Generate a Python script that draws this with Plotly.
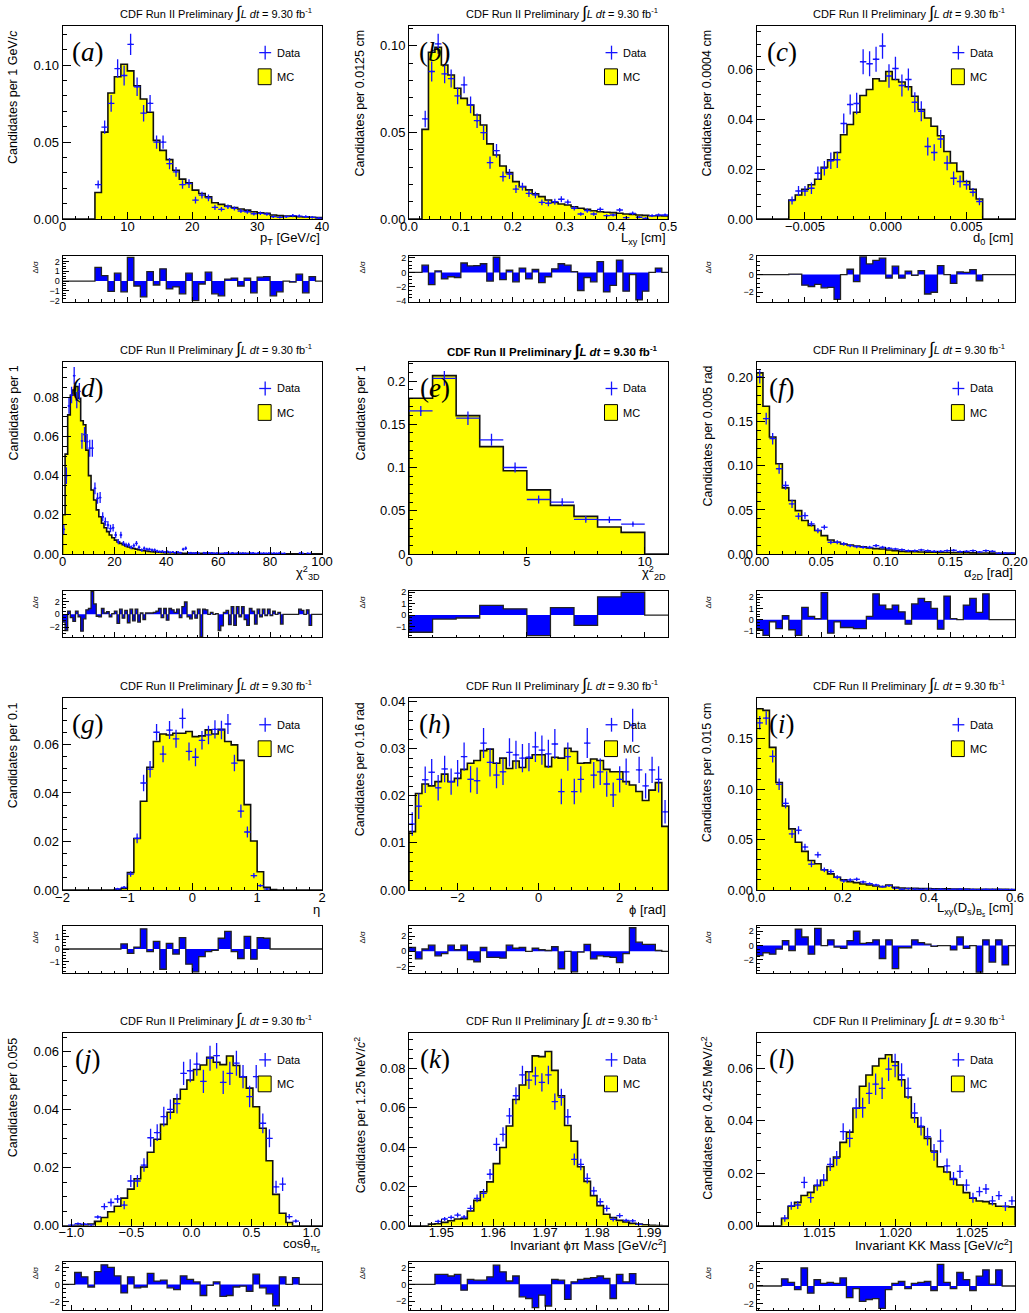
import plotly.graph_objects as go

W, H = 1029, 1313
FONT = "Liberation Sans"
SERIF = "Liberation Serif"
BLUE = "#1414ff"

# ---------------- (a) pT ----------------
A_START, A_BW = 5.0, 1.0
A_MC = [0.0172, 0.0565, 0.0819, 0.0925, 0.1006, 0.0963, 0.0866, 0.0780, 0.0694, 0.0511,
        0.0446, 0.0386, 0.0317, 0.0259, 0.0235, 0.0188, 0.0166, 0.0144, 0.0106, 0.0095,
        0.0084, 0.0075, 0.0065, 0.0058, 0.0047, 0.0041, 0.0037, 0.0026, 0.0022, 0.0019,
        0.0019, 0.0015, 0.0013, 0.0011, 0.0009]
A_DATA = [0.0224, 0.0597, 0.0752, 0.0978, 0.0933, 0.1136, 0.0860, 0.0688, 0.0752, 0.0500,
          0.0500, 0.0360, 0.0306, 0.0224, 0.0230, 0.0123, 0.0155, 0.0138, 0.0075, 0.0063,
          0.0080, 0.0069, 0.0052, 0.0047, 0.0034, 0.0037, 0.0032, 0.0015, 0.0011, 0.0015,
          0.0022, 0.0019, 0.0015, 0.0011, 0.0006]
A_ERR = [0.0026, 0.0043, 0.0054, 0.0060, 0.0065, 0.0069, 0.0060, 0.0054, 0.0054, 0.0043,
         0.0043, 0.0037, 0.0032, 0.0028, 0.0028, 0.0022, 0.0022, 0.0022, 0.0017, 0.0015,
         0.0015, 0.0013, 0.0013, 0.0013, 0.0011, 0.0011, 0.0011, 0.0009, 0.0008, 0.0009,
         0.0010, 0.0010, 0.0009, 0.0008, 0.0006]
A_RES_START = 5.0
A_RES = [1.4, 0.55, -1.05, 0.8, -1.1, 2.4, -0.5, -1.6, 0.95, -0.4, 1.25, -0.8, -0.6, -1.3, 0.8,
         -2.0, -0.3, 0.9, -1.3, -1.5, 0.2, 0.3, -0.5, 0.3, -1.2, 0.4, 0.45, -1.5, -1.1, 0.0,
         -0.1, 0.7, -1.2, 0.45, 0.0]

# ---------------- (b) Lxy ----------------
B_START, B_BW = 0.025, 0.0125
B_MC = [0.0518, 0.0963, 0.0992, 0.0890, 0.0832, 0.0755, 0.0697, 0.0659, 0.0601, 0.0543,
        0.0434, 0.0370, 0.0306, 0.0268, 0.0216, 0.0187, 0.0168, 0.0145, 0.0129, 0.0110,
        0.0096, 0.0087, 0.0081, 0.0071, 0.0062, 0.0056, 0.0048, 0.0042, 0.0039, 0.0037,
        0.0033, 0.0029, 0.0027, 0.0023, 0.0021, 0.0019, 0.0019, 0.0017]
B_DATA = [0.0578, 0.0852, 0.1012, 0.0838, 0.0811, 0.0711, 0.0775, 0.0659, 0.0568, 0.0499,
          0.0326, 0.0395, 0.0245, 0.0260, 0.0173, 0.0187, 0.0148, 0.0139, 0.0096, 0.0091,
          0.0100, 0.0114, 0.0098, 0.0062, 0.0029, 0.0048, 0.0029, 0.0056, 0.0019, 0.0023,
          0.0052, 0.0008, 0.0033, 0.0010, 0.0004, 0.0019, 0.0023, 0.0023]
B_ERR = [0.0048, 0.0058, 0.0058, 0.0054, 0.0052, 0.0048, 0.0048, 0.0048, 0.0042, 0.0042,
         0.0035, 0.0039, 0.0029, 0.0029, 0.0023, 0.0023, 0.0021, 0.0019, 0.0017, 0.0017,
         0.0017, 0.0017, 0.0015, 0.0013, 0.0010, 0.0012, 0.0010, 0.0012, 0.0008, 0.0009,
         0.0012, 0.0006, 0.0010, 0.0006, 0.0004, 0.0008, 0.0009, 0.0009]
B_RES_START = 0.025
B_RES = [1.0, -1.7, 0.2, -0.9, -0.6, -0.7, 1.3, 0.9, 0.95, 1.2, -1.2, 2.1, -1.0, 0.3, -1.3,
         0.6, -0.9, 0.4, -1.4, -0.6, 0.5, 1.2, 1.0, 0.1, -2.5, -0.7, -1.3, 1.5, -2.7, -1.8,
         1.7, -2.6, -0.3, -3.8, -2.6, 0.0, 0.6, 0.0]

# ---------------- (c) d0 ----------------
C_START, C_BW = -0.006, 0.0004
C_MC = [0.0076, 0.0096, 0.0119, 0.0137, 0.0159, 0.0207, 0.0237, 0.0266, 0.0337, 0.0378,
        0.0427, 0.0494, 0.0518, 0.0561, 0.0552, 0.0590, 0.0558, 0.0548, 0.0529, 0.0491,
        0.0438, 0.0404, 0.0371, 0.0333, 0.0270, 0.0224, 0.0190, 0.0150, 0.0119, 0.0080]
C_DATA = [0.0074, 0.0112, 0.0112, 0.0123, 0.0183, 0.0203, 0.0233, 0.0237, 0.0382, 0.0458,
          0.0462, 0.0629, 0.0621, 0.0639, 0.0692, 0.0572, 0.0602, 0.0534, 0.0558, 0.0467,
          0.0431, 0.0290, 0.0266, 0.0320, 0.0224, 0.0163, 0.0150, 0.0137, 0.0107, 0.0070]
C_ERR = [0.0016, 0.0020, 0.0020, 0.0023, 0.0027, 0.0029, 0.0033, 0.0033, 0.0040, 0.0040,
         0.0043, 0.0050, 0.0050, 0.0050, 0.0051, 0.0047, 0.0047, 0.0044, 0.0044, 0.0040,
         0.0040, 0.0036, 0.0033, 0.0036, 0.0029, 0.0027, 0.0024, 0.0020, 0.0017, 0.0015]
C_RES_START = -0.006
C_RES = [0.05, 0.05, -1.2, -1.35, -1.1, -1.5, -1.45, -2.8, 0.0, 0.6, -0.8, 2.0, 1.2, 1.6, 1.85,
         -0.4, 0.95, -0.4, 0.4, -0.1, 0.45, -2.2, -2.0, 1.0, 0.0, -1.0, 0.3, 0.25, 0.55, -0.7]

# ---------------- (d) chi2 3D ----------------
D_START, D_BW = 0.0, 1.0
D_MC = [0.0200, 0.0510, 0.0710, 0.0810, 0.0837, 0.0855, 0.0795, 0.0680, 0.0660, 0.0530,
        0.0400, 0.0327, 0.0276, 0.0225, 0.0190, 0.0157, 0.0134, 0.0114, 0.0097, 0.0083,
        0.0071, 0.0062, 0.0054, 0.0047, 0.0041, 0.0036, 0.0032, 0.0028, 0.0025, 0.0022,
        0.0019, 0.0017, 0.0015, 0.0013, 0.0012, 0.0011, 0.0010, 0.0009, 0.0008, 0.0007,
        0.0007, 0.0006, 0.0006, 0.0005, 0.0005, 0.0005, 0.0004, 0.0004, 0.0004, 0.0004,
        0.0003, 0.0003, 0.0003, 0.0003, 0.0003, 0.0003, 0.0003, 0.0003, 0.0002, 0.0002,
        0.0002, 0.0002, 0.0002, 0.0002, 0.0002, 0.0002, 0.0002, 0.0002, 0.0002, 0.0002,
        0.0002, 0.0002, 0.0001, 0.0001, 0.0001, 0.0001, 0.0001, 0.0001, 0.0001, 0.0001,
        0.0001, 0.0001, 0.0001, 0.0001, 0.0001, 0.0001, 0.0001, 0.0001, 0.0001, 0.0001,
        0.0001, 0.0001, 0.0001, 0.0001, 0.0001, 0.0001, 0.0001, 0.0001, 0.0001, 0.0001]
D_DATA = [0.0126, 0.0400, 0.0756, 0.0812, 0.0910, 0.0786, 0.0830, 0.0577, 0.0610, 0.0574,
          0.0540, 0.0540, 0.0335, 0.0284, 0.0288, 0.0190, 0.0165, 0.0148, 0.0130, 0.0134,
          0.0097, 0.0063, 0.0097, 0.0054, 0.0046, 0.0046, 0.0034, 0.0043, 0.0054, 0.0034,
          0.0020, 0.0029, 0.0024, 0.0024, 0.0020, 0.0020, 0.0015, 0.0012, 0.0013, 0.0009,
          0.0012, 0.0008, 0.0010, 0.0007, 0.0009, 0.0006, 0.0024, 0.0029, 0.0005, 0.0006,
          0.0004, 0.0005, 0.0003, 0.0000, 0.0006, 0.0005, 0.0004, 0.0005, 0.0003, 0.0004,
          0.0002, 0.0002, 0.0004, 0.0005, 0.0002, 0.0005, 0.0002, 0.0004, 0.0003, 0.0004,
          0.0003, 0.0002, 0.0004, 0.0005, 0.0002, 0.0005, 0.0003, 0.0004, 0.0003, 0.0004,
          0.0003, 0.0004, 0.0003, 0.0004, 0.0002, 0.0003, 0.0000, 0.0000, 0.0000, 0.0000,
          0.0000, 0.0004, 0.0003, 0.0000, 0.0003, 0.0002, 0.0000, 0.0000, 0.0000, 0.0000]
D_ERR = [0.0026, 0.0043, 0.0040, 0.0042, 0.0045, 0.0042, 0.0043, 0.0040, 0.0038, 0.0038,
         0.0043, 0.0043, 0.0030, 0.0028, 0.0028, 0.0023, 0.0021, 0.0020, 0.0019, 0.0019,
         0.0016, 0.0013, 0.0016, 0.0012, 0.0011, 0.0011, 0.0010, 0.0011, 0.0012, 0.0010,
         0.0008, 0.0009, 0.0008, 0.0008, 0.0008, 0.0008, 0.0007, 0.0006, 0.0006, 0.0005,
         0.0006, 0.0005, 0.0005, 0.0004, 0.0005, 0.0004, 0.0008, 0.0009, 0.0004, 0.0004,
         0.0003, 0.0004, 0.0003, 0.0000, 0.0004, 0.0004, 0.0003, 0.0004, 0.0003, 0.0003,
         0.0002, 0.0002, 0.0003, 0.0004, 0.0002, 0.0004, 0.0002, 0.0003, 0.0003, 0.0003,
         0.0003, 0.0002, 0.0003, 0.0004, 0.0002, 0.0004, 0.0003, 0.0003, 0.0003, 0.0003,
         0.0003, 0.0003, 0.0003, 0.0003, 0.0002, 0.0003, 0.0000, 0.0000, 0.0000, 0.0000,
         0.0000, 0.0003, 0.0003, 0.0000, 0.0003, 0.0002, 0.0000, 0.0000, 0.0000, 0.0000]
D_RES_START = 0.0
D_RES = [-1.2, -2.5, 0.5, -0.5, -1.1, 0.5, -0.4, -2.6, -0.7, 0.7,
         0.9, 3.5, 1.6, -0.3, -0.4, 0.9, 0.2, 0.4, -0.4, 0.1,
         0.5, -1.4, 0.8, -0.6, 0.6, -1.3, 0.8, -1.0, 0.8, -1.2,
         0.2, -0.8, 0.2, 0.2, 0.2, 0.3, 0.5, 0.9, -0.5, 0.9,
         -0.9, 0.9, 0.7, 0.3, 0.8, -0.5, 1.2, 1.9, -0.4, -0.7,
         0.5, -0.6, 0.8, -3.5, 0.8, 0.7, 0.0, 0.3, 0.0, 0.1,
         -2.5, -1.8, 0.3, 0.6, -1.6, 1.2, -1.7, 1.2, -0.4, 1.2,
         -0.8, -1.7, 0.9, 0.5, -1.5, 0.8, -0.4, 0.8, -0.2, 0.8,
         -0.2, 0.5, 0.0, 0.3, -1.5, 0.0, 0.0, 0.0, 0.0, 0.0,
         0.0, 0.8, 0.6, 0.0, 0.7, -1.7, 0.0, 0.0, 0.0, 0.0]

# ---------------- (e) chi2 2D ----------------
E_START, E_BW = 0.0, 1.0
E_MC = [0.1800, 0.2062, 0.1600, 0.1242, 0.0962, 0.0742, 0.0562, 0.0435, 0.0312, 0.0250]
E_DATA = [0.1654, 0.2030, 0.1570, 0.1320, 0.1000, 0.0630, 0.0600, 0.0400, 0.0396, 0.0346]
E_ERR = [0.0058, 0.0085, 0.0077, 0.0069, 0.0058, 0.0046, 0.0046, 0.0038, 0.0038, 0.0031]
E_RES_START = 0.0
E_RES = [-1.5, -0.35, -0.25, 0.85, 0.55, -1.8, 0.65, -0.9, 1.6, 2.0, 0.0]

# ---------------- (f) alpha 2D ----------------
F_START, F_BW = 0.0, 0.005
F_MC = [0.2057, 0.1677, 0.1328, 0.1025, 0.0751, 0.0607, 0.0493, 0.0380, 0.0323, 0.0266,
        0.0209, 0.0159, 0.0133, 0.0114, 0.0102, 0.0091, 0.0083, 0.0068, 0.0061, 0.0057,
        0.0046, 0.0038, 0.0030, 0.0027, 0.0025, 0.0023, 0.0021, 0.0020, 0.0018, 0.0017,
        0.0016, 0.0015, 0.0014, 0.0013, 0.0012, 0.0011, 0.0010, 0.0009, 0.0008, 0.0008]
F_DATA = [0.2011, 0.1537, 0.1309, 0.0968, 0.0778, 0.0569, 0.0429, 0.0436, 0.0342, 0.0266,
          0.0304, 0.0133, 0.0133, 0.0114, 0.0095, 0.0083, 0.0076, 0.0076, 0.0095, 0.0076,
          0.0065, 0.0057, 0.0049, 0.0038, 0.0038, 0.0046, 0.0038, 0.0030, 0.0030, 0.0038,
          0.0042, 0.0027, 0.0030, 0.0038, 0.0023, 0.0038, 0.0030, 0.0008, 0.0011, 0.0011]
F_ERR = [0.0076, 0.0068, 0.0065, 0.0057, 0.0049, 0.0046, 0.0038, 0.0038, 0.0030, 0.0030,
         0.0027, 0.0023, 0.0023, 0.0021, 0.0019, 0.0018, 0.0017, 0.0017, 0.0019, 0.0017,
         0.0015, 0.0014, 0.0013, 0.0012, 0.0012, 0.0013, 0.0012, 0.0011, 0.0011, 0.0012,
         0.0012, 0.0010, 0.0011, 0.0012, 0.0009, 0.0012, 0.0011, 0.0006, 0.0007, 0.0007]
F_RES_START = 0.0
F_RES = [-0.9, -1.4, -0.2, -0.8, 0.35, -0.9, -1.4, 1.1, 0.3, 0.1, 2.4, -1.2, -0.2, -0.7, -0.7,
         -0.8, -0.8, 0.3, 2.3, 1.3, 0.95, 1.3, 0.7, -0.4, 1.4, 1.9, 1.6, 1.0, -0.85, 2.1,
         0.1, 0.0, 1.3, 1.9, 0.65, 2.3, 0.0, 0.0, 0.0, 0.0]

# ---------------- (g) eta ----------------
G_START, G_BW = -1.3, 0.1
G_MC = [0.0000, 0.0002, 0.0006, 0.0072, 0.0212, 0.0366, 0.0506, 0.0612, 0.0643, 0.0639,
        0.0646, 0.0646, 0.0653, 0.0632, 0.0635, 0.0660, 0.0643, 0.0662, 0.0612, 0.0598,
        0.0534, 0.0352, 0.0202, 0.0075, 0.0011, 0.0002]
G_DATA = [0.0000, 0.0005, 0.0011, 0.0066, 0.0213, 0.0441, 0.0498, 0.0650, 0.0560, 0.0659,
          0.0623, 0.0707, 0.0571, 0.0547, 0.0617, 0.0639, 0.0662, 0.0659, 0.0684, 0.0523,
          0.0325, 0.0239, 0.0059, 0.0018, 0.0004, 0.0000]
G_ERR = [0.0000, 0.0003, 0.0005, 0.0011, 0.0020, 0.0034, 0.0034, 0.0034, 0.0034, 0.0037,
         0.0037, 0.0041, 0.0037, 0.0037, 0.0038, 0.0038, 0.0038, 0.0038, 0.0041, 0.0034,
         0.0027, 0.0023, 0.0011, 0.0006, 0.0003, 0.0000]
G_RES_START = -1.1
G_RES = [0.4, -0.35, 0.15, 1.6, -0.2, 0.6, -1.6, 0.45, -0.4, 0.9, -1.2, -1.8, -0.6, -0.2,
         -0.1, 0.85, 1.4, -0.2, -0.75, 1.0, -0.8, 0.9, 0.85]

# ---------------- (h) phi ----------------
H_START, H_BW = -3.2, 0.16
H_MC = [0.0124, 0.0205, 0.0225, 0.0221, 0.0230, 0.0246, 0.0230, 0.0237, 0.0256, 0.0269,
        0.0275, 0.0296, 0.0299, 0.0269, 0.0280, 0.0258, 0.0274, 0.0260, 0.0280, 0.0287,
        0.0287, 0.0262, 0.0282, 0.0280, 0.0301, 0.0294, 0.0269, 0.0270, 0.0278, 0.0275,
        0.0256, 0.0251, 0.0251, 0.0230, 0.0223, 0.0209, 0.0190, 0.0212, 0.0228, 0.0135]
H_DATA = [0.0140, 0.0178, 0.0234, 0.0250, 0.0217, 0.0257, 0.0230, 0.0248, 0.0283, 0.0235,
          0.0232, 0.0312, 0.0271, 0.0244, 0.0251, 0.0292, 0.0287, 0.0280, 0.0282, 0.0304,
          0.0297, 0.0289, 0.0310, 0.0209, 0.0283, 0.0209, 0.0235, 0.0312, 0.0244, 0.0251,
          0.0225, 0.0202, 0.0235, 0.0251, 0.0350, 0.0255, 0.0221, 0.0255, 0.0235, 0.0166]
H_ERR = [0.0025, 0.0027, 0.0028, 0.0028, 0.0027, 0.0028, 0.0028, 0.0028, 0.0030, 0.0028,
         0.0028, 0.0032, 0.0030, 0.0028, 0.0028, 0.0030, 0.0030, 0.0030, 0.0030, 0.0032,
         0.0031, 0.0030, 0.0032, 0.0027, 0.0030, 0.0027, 0.0028, 0.0032, 0.0028, 0.0028,
         0.0027, 0.0026, 0.0028, 0.0028, 0.0035, 0.0028, 0.0027, 0.0028, 0.0028, 0.0025]
H_RES_START = -3.2
H_RES = [0.5, -1.0, 0.3, 0.8, -0.6, -0.3, 0.8, 0.2, 0.8, -1.1, -1.4, 0.5, -0.8, -0.8, -0.9,
         0.8, 0.4, 0.5, 0.0, 0.4, 0.2, 0.1, 0.6, -2.3, 0.0, -2.7, -0.1, 0.9, -1.0, -0.6,
         -0.7, -0.8, -1.5, -0.3, 3.1, 1.2, 0.9, 0.9, 0.1, 0.0]

# ---------------- (i) Lxy(Ds)_Bs ----------------
I_START, I_BW = 0.0, 0.015
I_MC = [0.1797, 0.1780, 0.1414, 0.1065, 0.0832, 0.0606, 0.0473, 0.0383, 0.0293, 0.0260,
        0.0200, 0.0160, 0.0126, 0.0100, 0.0083, 0.0073, 0.0060, 0.0050, 0.0040, 0.0033,
        0.0050, 0.0027, 0.0020, 0.0018, 0.0016, 0.0015, 0.0014, 0.0013, 0.0012, 0.0011,
        0.0010, 0.0009, 0.0009, 0.0008, 0.0008, 0.0007, 0.0007, 0.0006, 0.0006, 0.0005]
I_DATA = [0.1657, 0.1704, 0.1324, 0.1048, 0.0859, 0.0556, 0.0592, 0.0426, 0.0256, 0.0349,
          0.0200, 0.0183, 0.0126, 0.0090, 0.0100, 0.0106, 0.0080, 0.0063, 0.0050, 0.0033,
          0.0043, 0.0017, 0.0007, 0.0012, 0.0008, 0.0006, 0.0010, 0.0005, 0.0007, 0.0004,
          0.0006, 0.0008, 0.0005, 0.0004, 0.0003, 0.0006, 0.0004, 0.0005, 0.0003, 0.0004]
I_ERR = [0.0067, 0.0067, 0.0060, 0.0057, 0.0050, 0.0040, 0.0040, 0.0033, 0.0030, 0.0030,
         0.0023, 0.0023, 0.0020, 0.0017, 0.0017, 0.0017, 0.0015, 0.0013, 0.0012, 0.0010,
         0.0010, 0.0007, 0.0005, 0.0006, 0.0005, 0.0004, 0.0005, 0.0004, 0.0004, 0.0003,
         0.0004, 0.0005, 0.0004, 0.0003, 0.0003, 0.0004, 0.0003, 0.0004, 0.0003, 0.0003]
I_RES_START = 0.0
I_RES = [-1.4, -1.0, -1.2, -0.5, 0.7, -0.7, 2.3, 1.2, -1.2, 2.4, 0.0, 0.8, -0.2, -0.4, 0.7,
         2.0, 0.3, 0.4, 0.8, -1.8, 0.8, -3.2, -0.3, -0.3, 0.8, 0.4, 0.2, -0.1, 0.0, 0.0,
         -0.6, 1.2, -0.4, 0.0, -3.7, 0.8, -2.3, 0.8, -2.7, 0.0]

# ---------------- (j) cos theta ----------------
J_START, J_BW = -1.0825, 0.055
J_MC = [0.0000, 0.0000, 0.0001, 0.0003, 0.0006, 0.0015, 0.0028, 0.0048, 0.0067, 0.0095,
        0.0126, 0.0162, 0.0202, 0.0253, 0.0298, 0.0349, 0.0391, 0.0437, 0.0470, 0.0502,
        0.0538, 0.0554, 0.0580, 0.0563, 0.0555, 0.0585, 0.0552, 0.0513, 0.0474, 0.0410,
        0.0336, 0.0224, 0.0108, 0.0043, 0.0011, 0.0000, 0.0000, 0.0000, 0.0000, 0.0000]
J_DATA = [0.0000, 0.0002, 0.0007, 0.0005, 0.0002, 0.0030, 0.0066, 0.0080, 0.0092, 0.0071,
          0.0154, 0.0154, 0.0209, 0.0303, 0.0321, 0.0376, 0.0401, 0.0421, 0.0525, 0.0534,
          0.0557, 0.0497, 0.0577, 0.0586, 0.0494, 0.0525, 0.0560, 0.0514, 0.0445, 0.0514,
          0.0353, 0.0301, 0.0134, 0.0143, 0.0031, 0.0016, 0.0000, 0.0000, 0.0000, 0.0000]
J_ERR = [0.0000, 0.0002, 0.0004, 0.0003, 0.0002, 0.0006, 0.0011, 0.0014, 0.0014, 0.0014,
         0.0021, 0.0021, 0.0023, 0.0031, 0.0029, 0.0034, 0.0034, 0.0034, 0.0040, 0.0040,
         0.0040, 0.0040, 0.0043, 0.0044, 0.0040, 0.0040, 0.0043, 0.0040, 0.0037, 0.0040,
         0.0034, 0.0031, 0.0021, 0.0023, 0.0009, 0.0006, 0.0000, 0.0000, 0.0000, 0.0000]
J_RES_START = -1.0825
J_RES = [0.0, 0.0, 1.4, 0.9, -0.3, 1.5, 2.3, 2.0, 1.0, -1.0, 0.9, -0.4, -0.3, 1.3, 0.4, 0.5,
         -0.4, -0.6, 1.0, 0.6, 0.3, -1.3, -0.1, 0.3, -1.4, -1.3, -0.3, -0.2, -0.8, 1.2, -0.4,
         -1.1, -2.5, 0.9, 0.0, 0.8, 0.0, 0.0, 0.0, 0.0]

# ---------------- (k) phi-pi mass ----------------
K_START, K_BW = 1.94375, 0.00125
K_MC = [0.0000, 0.0000, 0.0000, 0.0008, 0.0010, 0.0017, 0.0025, 0.0034, 0.0036, 0.0075,
        0.0129, 0.0173, 0.0223, 0.0316, 0.0398, 0.0508, 0.0643, 0.0717, 0.0784, 0.0865,
        0.0861, 0.0887, 0.0791, 0.0662, 0.0510, 0.0430, 0.0300, 0.0226, 0.0153, 0.0102,
        0.0058, 0.0041, 0.0027, 0.0019, 0.0012, 0.0008, 0.0005, 0.0002, 0.0001, 0.0000]
K_DATA = [0.0000, 0.0000, 0.0000, 0.0000, 0.0022, 0.0034, 0.0042, 0.0054, 0.0044, 0.0088,
          0.0139, 0.0165, 0.0262, 0.0414, 0.0465, 0.0559, 0.0662, 0.0768, 0.0742, 0.0763,
          0.0730, 0.0768, 0.0632, 0.0654, 0.0555, 0.0338, 0.0312, 0.0241, 0.0177, 0.0122,
          0.0088, 0.0032, 0.0051, 0.0027, 0.0025, 0.0007, 0.0000, 0.0000, 0.0000, 0.0000]
K_ERR = [0.0000, 0.0000, 0.0000, 0.0000, 0.0008, 0.0010, 0.0011, 0.0012, 0.0011, 0.0016,
         0.0020, 0.0022, 0.0027, 0.0034, 0.0036, 0.0040, 0.0043, 0.0047, 0.0046, 0.0047,
         0.0046, 0.0047, 0.0042, 0.0043, 0.0040, 0.0030, 0.0029, 0.0026, 0.0022, 0.0018,
         0.0016, 0.0010, 0.0012, 0.0009, 0.0009, 0.0005, 0.0000, 0.0000, 0.0000, 0.0000]
K_RES_START = 1.94375
K_RES = [0.0, 0.0, 0.0, 0.0, 1.2, 1.2, 1.0, 1.2, -0.7, 0.6, 0.5, 0.5, 0.9, 2.3, 1.5, 0.4, 1.0,
         -1.5, -1.7, -2.8, -1.3, -2.6, 0.6, 0.5, -1.8, 0.3, 0.6, 0.7, 0.8, 1.0, 0.7, -1.7,
         1.2, 0.3, 1.3, 0.0, 0.0, 0.0, 0.0, 0.0]

# ---------------- (l) KK mass ----------------
L_START, L_BW = 1.01253, 0.000425
L_MC = [0.0028, 0.0074, 0.0089, 0.0115, 0.0127, 0.0153, 0.0173, 0.0226, 0.0262, 0.0318,
        0.0357, 0.0448, 0.0532, 0.0575, 0.0609, 0.0638, 0.0652, 0.0625, 0.0557, 0.0491,
        0.0412, 0.0377, 0.0333, 0.0285, 0.0225, 0.0205, 0.0176, 0.0155, 0.0126, 0.0105,
        0.0094, 0.0092, 0.0084, 0.0074, 0.0074, 0.0072]
L_DATA = [0.0028, 0.0076, 0.0079, 0.0165, 0.0107, 0.0155, 0.0174, 0.0234, 0.0257, 0.0359,
          0.0333, 0.0448, 0.0450, 0.0505, 0.0540, 0.0524, 0.0597, 0.0611, 0.0575, 0.0524,
          0.0430, 0.0380, 0.0340, 0.0280, 0.0323, 0.0228, 0.0180, 0.0207, 0.0155, 0.0107,
          0.0130, 0.0140, 0.0095, 0.0115, 0.0073, 0.0095]
L_ERR = [0.0013, 0.0015, 0.0015, 0.0022, 0.0019, 0.0022, 0.0023, 0.0025, 0.0028, 0.0032,
         0.0034, 0.0038, 0.0038, 0.0041, 0.0041, 0.0041, 0.0045, 0.0045, 0.0045, 0.0041,
         0.0038, 0.0036, 0.0034, 0.0032, 0.0045, 0.0028, 0.0025, 0.0025, 0.0022, 0.0019,
         0.0019, 0.0019, 0.0018, 0.0017, 0.0017, 0.0017]
L_RES_START = 1.01253
L_RES = [0.8, 0.4, -0.4, 2.0, -0.8, 0.7, 0.3, 0.4, 0.3, 0.9, -1.3, -0.3, -1.7, -1.5, -1.4,
         -2.5, -0.4, 0.3, 0.5, -0.3, 0.3, 0.4, 0.5, -0.5, 2.4, 0.4, -0.3, 1.5, 0.7, -0.5,
         1.1, 1.8, 0.2, 1.8, 0.0, 0.0]

LABELS = ["a", "b", "c", "d", "e", "f", "g", "h", "i", "j", "k", "l"]
X_TITLES = [
    "p<sub>T</sub> [GeV/<i>c</i>]",
    "L<sub>xy</sub> [cm]",
    "d<sub>0</sub> [cm]",
    "χ<sup>2</sup><sub>3D</sub>",
    "χ<sup>2</sup><sub>2D</sub>",
    "α<sub>2D</sub> [rad]",
    "η",
    "ϕ [rad]",
    "L<sub>xy</sub>(D<sub>s</sub>)<sub>B<sub>s</sub></sub> [cm]",
    "cosθ<sub>π<sub>s</sub></sub>",
    "Invariant ϕπ Mass [GeV/<i>c</i><sup>2</sup>]",
    "Invariant KK Mass [GeV/<i>c</i><sup>2</sup>]",
]
Y_TITLES = [
    "Candidates per 1 GeV/<i>c</i>",
    "Candidates per 0.0125 cm",
    "Candidates per 0.0004 cm",
    "Candidates per 1",
    "Candidates per 1",
    "Candidates per 0.005 rad",
    "Candidates per 0.1",
    "Candidates per 0.16 rad",
    "Candidates per 0.015 cm",
    "Candidates per 0.055",
    "Candidates per 1.25 MeV/<i>c</i><sup>2</sup>",
    "Candidates per 0.425 MeV/<i>c</i><sup>2</sup>",
]

PANEL_DATA = [
    (A_START, A_BW, A_MC, A_DATA, A_ERR, A_RES_START, A_RES),
    (B_START, B_BW, B_MC, B_DATA, B_ERR, B_RES_START, B_RES),
    (C_START, C_BW, C_MC, C_DATA, C_ERR, C_RES_START, C_RES),
    (D_START, D_BW, D_MC, D_DATA, D_ERR, D_RES_START, D_RES),
    (E_START, E_BW, E_MC, E_DATA, E_ERR, E_RES_START, E_RES),
    (F_START, F_BW, F_MC, F_DATA, F_ERR, F_RES_START, F_RES),
    (G_START, G_BW, G_MC, G_DATA, G_ERR, G_RES_START, G_RES),
    (H_START, H_BW, H_MC, H_DATA, H_ERR, H_RES_START, H_RES),
    (I_START, I_BW, I_MC, I_DATA, I_ERR, I_RES_START, I_RES),
    (J_START, J_BW, J_MC, J_DATA, J_ERR, J_RES_START, J_RES),
    (K_START, K_BW, K_MC, K_DATA, K_ERR, K_RES_START, K_RES),
    (L_START, L_BW, L_MC, L_DATA, L_ERR, L_RES_START, L_RES),
]

STYLE = [
    dict(xr=[0, 40], yr=[0, 0.1255], rr=[-2.1, 2.55], xd=10, xm=2, xf="", yd=0.05, ym=0.01, yf=".2f", rd=1),
    dict(xr=[0, 0.5], yr=[0, 0.1115], rr=[-4.05, 2.27], xd=0.1, xm=0.02, xf=".1f", yd=0.05, ym=0.01, yf=".2f", rd=2),
    dict(xr=[-0.008, 0.008], yr=[0, 0.0772], rr=[-3.07, 2.1], xd=0.005, xm=0.001, xf=".3f", yd=0.02, ym=0.005, yf=".2f", rd=2),
    dict(xr=[0, 100], yr=[0, 0.098], rr=[-3.55, 3.6], xd=20, xm=4, xf="", yd=0.02, ym=0.005, yf=".2f", rd=2),
    dict(xr=[0, 11], yr=[0, 0.222], rr=[-1.94, 2.11], xd=5, xm=1, xf="", yd=0.05, ym=0.01, yf="", rd=1),
    dict(xr=[0, 0.2], yr=[0, 0.218], rr=[-1.57, 2.55], xd=0.05, xm=0.01, xf=".2f", yd=0.05, ym=0.01, yf=".2f", rd=1),
    dict(xr=[-2, 2], yr=[0, 0.079], rr=[-1.92, 1.82], xd=1, xm=0.2, xf="", yd=0.02, ym=0.005, yf=".2f", rd=1),
    dict(xr=[-3.2, 3.2], yr=[0, 0.0407], rr=[-2.9, 3.33], xd=2, xm=0.4, xf="", yd=0.01, ym=0.002, yf=".2f", rd=2),
    dict(xr=[0, 0.6], yr=[0, 0.19], rr=[-3.86, 2.73], xd=0.2, xm=0.04, xf=".1f", yd=0.05, ym=0.01, yf=".2f", rd=2),
    dict(xr=[-1.074, 1.088], yr=[0, 0.0663], rr=[-3.0, 2.67], xd=0.5, xm=0.1, xf=".1f", yd=0.02, ym=0.005, yf=".2f", rd=2),
    dict(xr=[1.94375, 1.99375], yr=[0, 0.098], rr=[-3.08, 2.72], xd=0.01, xm=0.002, xf=".2f", yd=0.02, ym=0.005, yf=".2f", rd=2),
    dict(xr=[1.01089, 1.02782], yr=[0, 0.0734], rr=[-2.67, 2.7], xd=0.005, xm=0.001, xf=".3f", yd=0.02, ym=0.005, yf=".2f", rd=2),
]

COLS = [(62.5, 322.0), (409.0, 668.3), (756.5, 1015.0)]
YTITLE_X = [13, 360, 707]
DS_X = [35, 362, 708]
MAIN_ROWS = [(26.0, 219.0), (362.0, 554.0), (698.3, 890.0), (1033.3, 1225.7)]
RES_ROWS = [(256.0, 301.7), (591.0, 637.3), (926.0, 973.3), (1261.7, 1310.0)]


def pxx(x):
    return x / W


def pyy(y):
    return 1 - y / H


def step_xy(start, bw, vals, lo, hi):
    n = len(vals)
    edges = [start + bw * i for i in range(n + 1)]
    xs = [lo, edges[0]] + edges + [edges[-1], hi]
    ys = [0, 0] + list(vals) + [vals[-1], 0, 0]
    return xs, ys


fig = go.Figure()
layout = dict(width=W, height=H, margin=dict(l=0, r=0, t=0, b=0, pad=0),
              paper_bgcolor="white", plot_bgcolor="white", showlegend=False)
annotations = []
shapes = []


def axis_common():
    return dict(showline=True, linecolor="black", linewidth=1, mirror=True, automargin=False,
                showgrid=False, zeroline=False, ticks="inside", tickcolor="black",
                tickwidth=1, fixedrange=True)


for p in range(12):
    start, bw, mc, data, err, rstart, res = PANEL_DATA[p]
    assert len(data) == len(mc) == len(err), (LABELS[p], len(mc), len(data), len(err))
    st = STYLE[p]
    col, row = p % 3, p // 3
    x0, x1 = COLS[col]
    mt, mb = MAIN_ROWS[row]
    rt, rb = RES_ROWS[row]
    m, r = 2 * p + 1, 2 * p + 2
    mx = "x" if m == 1 else f"x{m}"
    my = "y" if m == 1 else f"y{m}"
    rx, ry = f"x{r}", f"y{r}"
    mxk = "xaxis" if m == 1 else f"xaxis{m}"
    myk = "yaxis" if m == 1 else f"yaxis{m}"

    lo, hi = st["xr"]
    xs, ys = step_xy(start, bw, mc, lo, hi)
    fig.add_trace(go.Scatter(x=xs, y=ys, xaxis=mx, yaxis=my, mode="lines",
                             line=dict(shape="hv", color="#111111", width=1.6),
                             fill="tozeroy", fillcolor="#ffff00", hoverinfo="skip"))
    cx = [start + bw * (i + 0.5) for i, v in enumerate(data) if v > 0]
    cy = [v for v in data if v > 0]
    ce = [e for v, e in zip(data, err) if v > 0]
    fig.add_trace(go.Scatter(x=cx, y=cy, xaxis=mx, yaxis=my, mode="markers",
                             marker=dict(size=2, color=BLUE),
                             error_x=dict(type="constant", value=bw / 2, width=0, thickness=1.3, color=BLUE),
                             error_y=dict(type="data", array=ce, width=0, thickness=1.3, color=BLUE)))
    xs, ys = step_xy(rstart, bw, res, lo, hi)
    fig.add_trace(go.Scatter(x=xs, y=ys, xaxis=rx, yaxis=ry, mode="lines",
                             line=dict(shape="hv", color="#222222", width=1.3),
                             fill="tozeroy", fillcolor="#0000ff", hoverinfo="skip"))

    tf = dict(family=FONT, size=13, color="black")
    ax = axis_common()
    ax.update(domain=[pxx(x0), pxx(x1)], range=st["xr"], anchor=my, dtick=st["xd"], tick0=0,
              tickformat=st["xf"], ticklen=7, tickfont=tf, ticklabelstandoff=-5,
              minor=dict(ticks="inside", ticklen=3.5, dtick=st["xm"], tick0=0, tickcolor="black", tickwidth=1))
    layout[mxk] = ax
    ay = axis_common()
    ay.update(domain=[pyy(mb), pyy(mt)], range=st["yr"], anchor=mx, dtick=st["yd"], tick0=0,
              tickformat=st["yf"], ticklen=8, tickfont=tf,
              minor=dict(ticks="inside", ticklen=4, dtick=st["ym"], tick0=0, tickcolor="black", tickwidth=1))
    layout[myk] = ay
    rxa = axis_common()
    rxa.update(domain=[pxx(x0), pxx(x1)], range=st["xr"], anchor=ry, dtick=st["xd"], tick0=0,
               showticklabels=False, ticklen=5,
               minor=dict(ticks="inside", ticklen=2.5, dtick=st["xm"], tick0=0, tickcolor="black", tickwidth=1))
    layout[f"xaxis{r}"] = rxa
    rya = axis_common()
    rya.update(domain=[pyy(rb), pyy(rt)], range=st["rr"], anchor=rx, dtick=st["rd"], tick0=0,
               ticklen=6, tickfont=dict(family=FONT, size=9, color="black"),
               minor=dict(ticks="inside", ticklen=3, dtick=st["rd"] / 4, tick0=0, tickcolor="black", tickwidth=1))
    layout[f"yaxis{r}"] = rya

    bold = (p == 4)
    head = ("CDF Run II Preliminary <span style='font-size:17px'>∫</span>"
            "<i>L dt</i> = 9.30 fb<sup>-1</sup>")
    if bold:
        head = "<b>" + head + "</b>"
    annotations.append(dict(xref="paper", yref="paper", x=pxx(x1 - 8), y=pyy(mt - (12 if bold else 14)),
                            xanchor="right", yanchor="middle", showarrow=False, text=head,
                            font=dict(family=FONT, size=11.5 if bold else 11, color="black")))
    dref_x, dref_y = f"{mx} domain", f"{my} domain"
    annotations.append(dict(xref=dref_x, yref=dref_y, x=0.10, y=0.865, xanchor="center", yanchor="middle",
                            showarrow=False, text=f"(<i>{LABELS[p]}</i>)",
                            font=dict(family=SERIF, size=27, color="black")))
    annotations.append(dict(xref=dref_x, yref=dref_y, x=0.817, y=0.862, xanchor="left", yanchor="middle",
                            showarrow=False, text="Data", font=dict(family=FONT, size=11, color="black")))
    annotations.append(dict(xref=dref_x, yref=dref_y, x=0.817, y=0.735, xanchor="left", yanchor="middle",
                            showarrow=False, text="MC", font=dict(family=FONT, size=11, color="black")))
    shapes.append(dict(type="line", xref=dref_x, yref=dref_y, x0=0.758, x1=0.804, y0=0.862, y1=0.862,
                       line=dict(color=BLUE, width=1.3)))
    shapes.append(dict(type="line", xref=dref_x, yref=dref_y, x0=0.781, x1=0.781, y0=0.826, y1=0.898,
                       line=dict(color=BLUE, width=1.3)))
    shapes.append(dict(type="rect", xref=dref_x, yref=dref_y, x0=0.754, x1=0.804, y0=0.696, y1=0.778,
                       fillcolor="#ffff00", line=dict(color="black", width=1)))
    annotations.append(dict(xref="paper", yref="paper", x=pxx(x1), y=pyy(mb + 19), xanchor="right",
                            yanchor="middle", showarrow=False, text=X_TITLES[p],
                            font=dict(family=FONT, size=13, color="black")))
    annotations.append(dict(xref="paper", yref="paper", x=pxx(YTITLE_X[col]), y=pyy(mt + 2), xanchor="center",
                            yanchor="top", textangle=-90, showarrow=False, text=Y_TITLES[p],
                            font=dict(family=FONT, size=12.5, color="black")))
    annotations.append(dict(xref="paper", yref="paper", x=pxx(DS_X[col]), y=pyy(rt + 3), xanchor="center",
                            yanchor="top", textangle=-90, showarrow=False, text="Δ/σ",
                            font=dict(family=FONT, size=8, color="black")))

layout["annotations"] = annotations
layout["shapes"] = shapes
fig.update_layout(**layout)
fig.write_html("out.html")
